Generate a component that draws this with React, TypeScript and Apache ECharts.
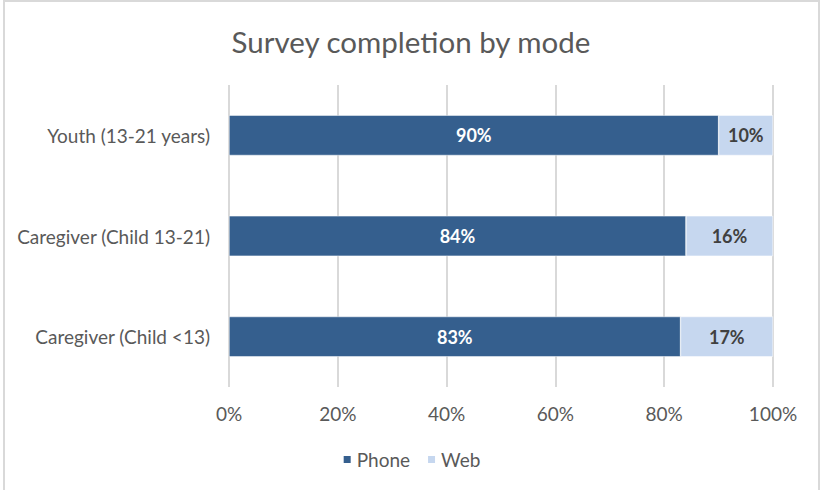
import React, { useEffect, useRef } from "react";
import * as echarts from "echarts";

const categories = ["Caregiver (Child <13)", "Caregiver (Child 13-21)", "Youth (13-21 years)"];
const phoneValues = [83, 84, 90];
const webValues = [17, 16, 10];
const xTicks = [0, 20, 40, 60, 80, 100];
const titleText = "Survey completion by mode";

export default function App() {
  const ref = useRef<HTMLDivElement>(null);
  useEffect(() => {
    if (!ref.current) return;
    const chart = echarts.init(ref.current, null, { renderer: "svg" });
    const font = "Lato, 'Open Sans', sans-serif";
    chart.setOption({
      animation: false,
      backgroundColor: "#ffffff",
      textStyle: { fontFamily: font },
      title: {
        text: titleText,
        left: "center",
        top: 21,
        textStyle: { fontFamily: font, fontSize: 29.5, fontWeight: "normal", color: "#595959" },
      },
      graphic: [
        {
          type: "rect",
          shape: { x: 4, y: 1, width: 815, height: 520 },
          style: { fill: "none", stroke: "#d9d9d9", lineWidth: 2 },
          silent: true,
        },
      ],
      legend: {
        data: ["Phone", "Web"],
        bottom: 16,
        left: "center",
        itemWidth: 9,
        itemHeight: 9,
        itemGap: 16,
        icon: "rect",
        textStyle: { fontFamily: font, fontSize: 19, color: "#595959" },
      },
      grid: { left: 229, right: 49, top: 85, bottom: 103, containLabel: false },
      xAxis: {
        type: "value",
        min: xTicks[0],
        max: xTicks[xTicks.length - 1],
        interval: xTicks[1] - xTicks[0],
        axisLabel: {
          formatter: "{value}%",
          fontFamily: font,
          fontSize: 19,
          color: "#595959",
          margin: 17,
        },
        axisLine: { show: false },
        axisTick: { show: false },
        splitLine: { lineStyle: { color: "#d9d9d9", width: 2 } },
      },
      yAxis: {
        type: "category",
        data: categories,
        axisLabel: { fontFamily: font, fontSize: 19, color: "#595959", margin: 19 },
        axisLine: { show: false },
        axisTick: { show: false },
      },
      series: [
        {
          name: "Phone",
          type: "bar",
          stack: "total",
          data: phoneValues,
          barCategoryGap: "60%",
          itemStyle: { color: "#355f8e", borderColor: "#ffffff", borderWidth: 0.5 },
          label: {
            show: true,
            position: "inside",
            formatter: "{c}%",
            color: "#ffffff",
            fontWeight: "bold",
            fontSize: 18,
            fontFamily: font,
          },
        },
        {
          name: "Web",
          type: "bar",
          stack: "total",
          data: webValues,
          barCategoryGap: "60%",
          itemStyle: { color: "#c6d7ef", borderColor: "#ffffff", borderWidth: 0.5 },
          label: {
            show: true,
            position: "inside",
            formatter: "{c}%",
            color: "#404040",
            fontWeight: "bold",
            fontSize: 18,
            fontFamily: font,
          },
        },
      ],
    });
    return () => chart.dispose();
  }, []);
  return (
    <div
      ref={ref}
      style={{ position: "absolute", left: 0, top: 0, width: 822, height: 490 }}
    />
  );
}
